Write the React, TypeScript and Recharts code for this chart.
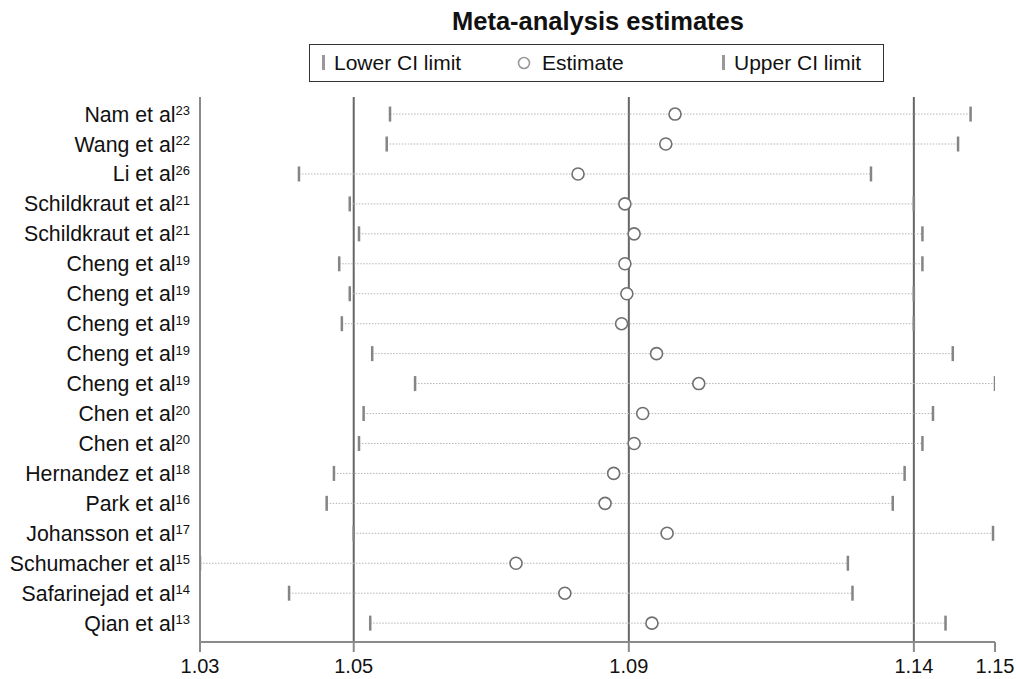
import { ErrorBar, ReferenceLine, Scatter, ScatterChart, XAxis, YAxis } from "recharts";

const FONT = "'Liberation Sans', Arial, Helvetica, sans-serif";

// drop the default body margin so the root spans the whole window; the 8px inset is kept as padding below
if (typeof document !== "undefined") document.body.style.margin = "0";

const studies = [
  "Nam et al",
  "Wang et al",
  "Li et al",
  "Schildkraut et al",
  "Schildkraut et al",
  "Cheng et al",
  "Cheng et al",
  "Cheng et al",
  "Cheng et al",
  "Cheng et al",
  "Chen et al",
  "Chen et al",
  "Hernandez et al",
  "Park et al",
  "Johansson et al",
  "Schumacher et al",
  "Safarinejad et al",
  "Qian et al",
];
const refNumbers = ["23", "22", "26", "21", "21", "19", "19", "19", "19", "19", "20", "20", "18", "16", "17", "15", "14", "13"];

// pooled estimate with the named study omitted
const lowerCI = [1.0563, 1.0558, 1.0425, 1.0502, 1.0516, 1.0486, 1.0502, 1.049, 1.0536, 1.0601, 1.0523, 1.0516, 1.0478, 1.0467, 1.0508, 1.0275, 1.041, 1.0533];
const estimates = [1.0995, 1.0981, 1.0848, 1.0919, 1.0933, 1.0919, 1.0922, 1.0914, 1.0967, 1.1031, 1.0946, 1.0933, 1.0902, 1.0889, 1.0983, 1.0754, 1.0828, 1.096];
const upperCI = [1.1443, 1.1424, 1.1292, 1.1357, 1.137, 1.137, 1.1357, 1.1357, 1.1416, 1.148, 1.1386, 1.137, 1.1343, 1.1325, 1.1477, 1.1257, 1.1264, 1.1405];

// overall lower CI, estimate, upper CI
const overall = [1.0508, 1.0925, 1.1357];

const tickValues = [1.0275, 1.0508, 1.0925, 1.1357, 1.148];
const tickLabels = ["1.03", "1.05", "1.09", "1.14", "1.15"];

const rowIndex = studies.map((_, i) => i);
const ciRows = estimates.map((v, i) => ({ x: v, y: i, err: [v - lowerCI[i], upperCI[i] - v] }));
const lowerPoints = lowerCI.map((v, i) => ({ x: v, y: i }));
const upperPoints = upperCI.map((v, i) => ({ x: v, y: i }));
const estimatePoints = estimates.map((v, i) => ({ x: v, y: i }));

const AXIS = "#8a8a8a";

function StudyTick(props: any) {
  const { x, y, payload } = props;
  const i = payload.value;
  return (
    <text x={x} y={y + 7.5} textAnchor="end" fontFamily={FONT} fontSize={21.3} fill="#111">
      <tspan>{studies[i]}</tspan>
      <tspan dy={-6.5} fontSize={13}>
        {refNumbers[i]}
      </tspan>
    </text>
  );
}

const LimitBar = (props: any) => <rect x={props.cx - 1.25} y={props.cy - 7.5} width={2.5} height={15} fill="#858585" />;

const EstimateMark = (props: any) => (
  <circle cx={props.cx} cy={props.cy} r={6} fill="#fff" stroke="#707070" strokeWidth={1.6} />
);

function LegendBox() {
  const text = { position: "absolute" as const, top: 6, fontSize: 21, fontFamily: FONT, color: "#111", lineHeight: "24px" };
  return (
    <div
      style={{
        position: "absolute",
        left: 301,
        top: 36,
        width: 573,
        height: 36,
        border: "1.5px solid #333",
        background: "#fff",
        zIndex: 1,
      }}
    >
      <svg style={{ position: "absolute", left: 0, top: 0 }} width={573} height={36}>
        <rect x={12} y={10} width={3} height={15} fill="#999" />
        <circle cx={214} cy={18} r={5.5} fill="#fff" stroke="#999" strokeWidth={1.6} />
        <rect x={412} y={10} width={3} height={15} fill="#999" />
      </svg>
      <span style={{ ...text, left: 24 }}>Lower CI limit</span>
      <span style={{ ...text, left: 232 }}>Estimate</span>
      <span style={{ ...text, left: 424 }}>Upper CI limit</span>
    </div>
  );
}

export default function App() {
  return (
    <div style={{ width: 1016, height: 679, padding: "8px 0 0 8px", boxSizing: "border-box", background: "#fff", overflow: "hidden" }}>
      <div style={{ position: "relative", width: 1008, height: 671 }}>
        <div
          style={{
            position: "absolute",
            left: 0,
            width: 1180,
            top: -1,
            textAlign: "center",
            fontFamily: FONT,
            fontWeight: "bold",
            fontSize: 25.5,
            color: "#111",
            lineHeight: "28px",
            zIndex: 1,
          }}
        >
          Meta-analysis estimates
        </div>
        <LegendBox />
        <ScatterChart width={1008} height={671} margin={{ top: 89, right: 21, bottom: 0, left: 0 }}>
          <XAxis
            type="number"
            dataKey="x"
            domain={[tickValues[0], tickValues[tickValues.length - 1]]}
            allowDataOverflow
            ticks={tickValues}
            interval={0}
            tickFormatter={(v: number) => tickLabels[tickValues.indexOf(v)]}
            height={37}
            tickSize={10}
            tickMargin={7}
            axisLine={{ stroke: AXIS, strokeWidth: 2 }}
            tickLine={{ stroke: AXIS, strokeWidth: 2 }}
            tick={{ fill: "#111", fontSize: 20, fontFamily: FONT }}
          />
          <YAxis
            type="number"
            dataKey="y"
            reversed
            domain={[-0.57, 17.63]}
            allowDataOverflow
            ticks={rowIndex}
            interval={0}
            width={192}
            tickSize={0}
            tickMargin={10}
            tickLine={false}
            axisLine={{ stroke: AXIS, strokeWidth: 2 }}
            tick={<StudyTick />}
          />
          {overall.map((v) => (
            <ReferenceLine key={v} x={v} stroke="#666" strokeWidth={2} />
          ))}
          <Scatter data={ciRows} shape={() => <g />} isAnimationActive={false}>
            <ErrorBar
              dataKey="err"
              direction="x"
              width={0}
              stroke="#b5b5b5"
              strokeWidth={1}
              strokeDasharray="1.5 1.5"
              isAnimationActive={false}
            />
          </Scatter>
          <Scatter data={lowerPoints} shape={LimitBar} isAnimationActive={false} />
          <Scatter data={upperPoints} shape={LimitBar} isAnimationActive={false} />
          <Scatter data={estimatePoints} shape={EstimateMark} isAnimationActive={false} />
        </ScatterChart>
      </div>
    </div>
  );
}
